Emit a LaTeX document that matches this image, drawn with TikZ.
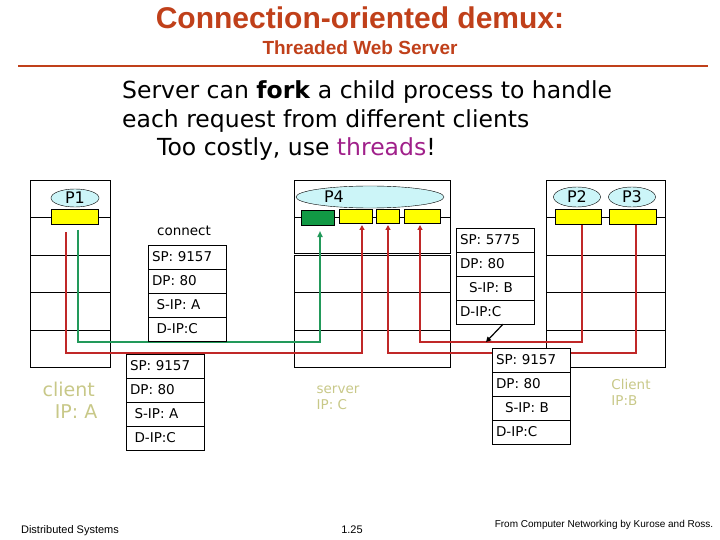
\documentclass[tikz,border=0pt]{standalone}
\usepackage{fontspec}
\setmainfont{DejaVu Sans}
\newfontfamily\arial{Liberation Sans}
\usetikzlibrary{shapes.geometric,arrows.meta}
\definecolor{ttl}{HTML}{C0401A}
\definecolor{olive}{HTML}{C8C888}
\definecolor{grn}{HTML}{22995A}
\definecolor{dgrn}{HTML}{119944}
\definecolor{rd}{HTML}{C02828}
\definecolor{ylw}{HTML}{FFFF00}
\definecolor{cyn}{HTML}{CCF5F8}
\definecolor{pur}{HTML}{A0208A}
\tikzset{
  hostbox/.style={draw, line width=0.8pt},
  proc/.style={ellipse, draw, fill=cyn, inner sep=0pt, font=\fontsize{16}{16}\selectfont},
  sock/.style={draw, fill=ylw, minimum height=15pt, inner sep=0pt},
  pkt/.style={draw, fill=white, minimum width=78pt, minimum height=24pt, inner ysep=0pt, inner xsep=4pt, text width=70pt, align=left, font=\fontsize{13.5}{13.5}\selectfont},
  gline/.style={draw=grn, line width=1.8pt},
  rline/.style={draw=rd, line width=1.8pt},
  lbl/.style={text=olive, align=left, inner sep=0pt},
}
\begin{document}
\begin{tikzpicture}[x=1pt,y=-1pt]
\useasboundingbox (0,0) rectangle (720,540);
% title
\node (t1) at (360,18) {\arial\bfseries\color{ttl}\fontsize{30}{30}\selectfont Connection-oriented demux:};
\node (t2) at (360,48) {\arial\bfseries\color{ttl}\fontsize{19}{19}\selectfont Threaded Web Server};
\draw[ttl, line width=2.5pt] (18,66) -- (708,66);
\node[anchor=base west, inner sep=0pt, font=\fontsize{23.5}{23.5}\selectfont] (b1) at (122,99) {Server can \textbf{fork} a child process to handle};
\node[anchor=base west, inner sep=0pt, font=\fontsize{23.5}{23.5}\selectfont] (b2) at (122,128) {each request from different clients};
\node[anchor=base west, inner sep=0pt, font=\fontsize{23.5}{23.5}\selectfont] (b3) at (157,156) {Too costly, use \textcolor{pur}{threads}!};
% client host A
\draw[hostbox] (30,180) rectangle (110,367);
\foreach \y in {217,255,292,330} \draw (30,\y) -- (110,\y);
\node[sock, minimum width=47pt] (s1) at (74.5,217) {};
\node[proc, minimum width=48pt, minimum height=18pt] (p1) at (75,198) {P1};
% server host C
\draw[hostbox] (294,180) rectangle (450,253);
\draw[hostbox] (294,255) rectangle (450,367);
\foreach \y in {217,292,330} \draw (294,\y) -- (450,\y);
\node[proc, minimum width=148pt, minimum height=22pt] (p4) at (370,197) {};
\node[font=\fontsize{16}{16}\selectfont] (p4l) at (334,197) {P4};
\node[draw, fill=dgrn, minimum width=33pt, minimum height=15pt, inner sep=0pt] (g4) at (317.5,217.5) {};
\node[sock, minimum width=33pt, minimum height=14pt] (y1) at (355.5,216.5) {};
\node[sock, minimum width=23pt, minimum height=14pt] (y2) at (387.5,216.5) {};
\node[sock, minimum width=36pt, minimum height=14pt] (y3) at (422,216.5) {};
% client host B
\draw[hostbox] (546,180) rectangle (665,367);
\foreach \y in {217,255,292,330} \draw (546,\y) -- (665,\y);
\node[sock, minimum width=46pt] (s2) at (578,217) {};
\node[sock, minimum width=47pt] (s3) at (632.5,217) {};
\node[proc, minimum width=47pt, minimum height=20pt] (p2) at (577,197) {P2};
\node[proc, minimum width=47pt, minimum height=20pt] (p3) at (632,197) {P3};
% connectors
\coordinate (ga) at (78,230); \coordinate (gb) at (78,342); \coordinate (gc) at (320,342); \coordinate (gd) at (320,231);
\draw[gline, -{Triangle[length=6pt,width=5pt]}] (ga) -- (gb) -- (gc) -- (gd);
\coordinate (ra) at (66,232); \coordinate (rb) at (66,353); \coordinate (rc) at (362,353); \coordinate (rd1) at (362,225);
\draw[rline, -{Triangle[length=5pt,width=5pt]}] (ra) -- (rb) -- (rc) -- (rd1);
\coordinate (qa) at (636,225); \coordinate (qb) at (636,353); \coordinate (qc) at (388,353); \coordinate (qd) at (388,225);
\draw[rline, -{Triangle[length=5pt,width=5pt]}] (qa) -- (qb) -- (qc) -- (qd);
\coordinate (ua) at (582,225); \coordinate (ub) at (582,342); \coordinate (uc) at (420,342); \coordinate (ud) at (420,225);
\draw[rline, -{Triangle[length=5pt,width=5pt]}] (ua) -- (ub) -- (uc) -- (ud);
% packets
\node[font=\fontsize{13.5}{13.5}\selectfont] (cn) at (184,231) {connect};
\foreach \i/\t in {0/SP: 9157,1/DP: 80,2/{\ S-IP: A},3/{\ D-IP:C}}{
  \node[pkt] (pa\i) at (187,257+24*\i) {\t};
}
\foreach \i/\t in {0/SP: 9157,1/DP: 80,2/{\ S-IP: A},3/{\ D-IP:C}}{
  \node[pkt] (pb\i) at (165,366+24*\i) {\t};
}
\foreach \i/\t in {0/SP: 5775,1/DP: 80,2/{\ \ S-IP: B},3/D-IP:C}{
  \node[pkt] (pc\i) at (495,240+24*\i) {\t};
}
\foreach \i/\t in {0/SP: 9157,1/DP: 80,2/{\ \ S-IP: B},3/D-IP:C}{
  \node[pkt] (pd\i) at (531,360+24*\i) {\t};
}
\coordinate (ar) at (486,342);
\draw[line width=1.2pt, -{Triangle[length=5pt,width=5pt]}] (pc3.south) ++(8,0) -- (ar);
% labels
\node[lbl, font=\fontsize{19}{22}\selectfont] (la) at (70,400) {client\\\ \ IP: A};
\node[lbl, font=\fontsize{13.5}{16}\selectfont] (lc) at (338,398) {server\\IP: C};
\node[lbl, font=\fontsize{13.5}{16}\selectfont] (lb) at (631,392) {Client\\IP:B};
\node[font=\arial\fontsize{11}{11}\selectfont] (f1) at (70,531) {Distributed Systems};
\node[font=\arial\fontsize{11}{11}\selectfont] (f2) at (352,530) {1.25};
\node[font=\arial\fontsize{10}{10}\selectfont] (f3) at (604,525) {From Computer Networking by Kurose and Ross.};
\end{tikzpicture}
\end{document}
